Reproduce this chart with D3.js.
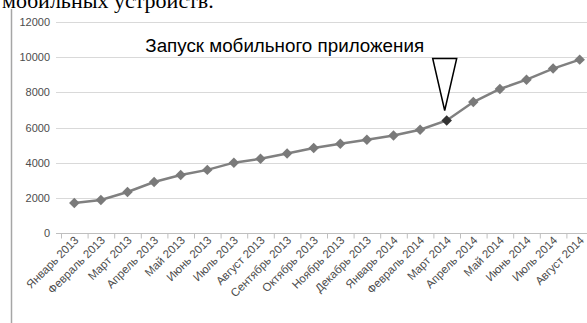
<!DOCTYPE html>
<html lang="ru">
<head>
    <meta charset="utf-8" />
    <title>Запуск мобильного приложения</title>
    <script src="https://d3js.org/d3.v7.min.js"></script>
    <style>
        body { margin: 0; background: #fff; }
        svg { display: block; }
    </style>
</head>
<body>
    <script>
        // Data
        const months = ["Январь 2013", "Февраль 2013", "Март 2013", "Апрель 2013", "Май 2013",
            "Июнь 2013", "Июль 2013", "Август 2013", "Сентябрь 2013", "Октябрь 2013",
            "Ноябрь 2013", "Декабрь 2013", "Январь 2014", "Февраль 2014", "Март 2014",
            "Апрель 2014", "Май 2014", "Июнь 2014", "Июль 2014", "Август 2014"];
        const users = [1700, 1880, 2330, 2900, 3300, 3590, 4000, 4220, 4520, 4830,
            5070, 5300, 5550, 5870, 6400, 7450, 8190, 8720, 9350, 9860];
        const yTicks = [0, 2000, 4000, 6000, 8000, 10000, 12000];
        const launchMonth = "Март 2014";
        const launchText = "Запуск мобильного приложения";

        const width = 587, height = 323;

        const svg = d3.select("body")
            .append("svg")
            .attr("width", width)
            .attr("height", height);

        // cut-off line of text from the page above the chart
        svg.append("text")
            .attr("x", 2)
            .attr("y", 8)
            .attr("font-family", "Liberation Serif, serif")
            .attr("font-size", "22px")
            .attr("fill", "#000")
            .text("мобильных устройств.");

        // frame line on the left
        svg.append("line")
            .attr("x1", 11.5).attr("x2", 11.5)
            .attr("y1", 9).attr("y2", height)
            .attr("stroke", "#a6a6a6")
            .attr("stroke-width", 1.5);

        const xScale = d3.scaleBand()
            .domain(months)
            .range([61, 61 + 26.6 * months.length]);

        const yScale = d3.scaleLinear()
            .domain([0, 12000])
            .range([233, 22]);

        // gridlines
        svg.append("g")
            .selectAll("line")
            .data(yTicks.filter(d => d > 0))
            .enter()
            .append("line")
            .attr("x1", 56).attr("x2", width)
            .attr("y1", d => Math.round(yScale(d)) + 0.5)
            .attr("y2", d => Math.round(yScale(d)) + 0.5)
            .attr("stroke", "#d9d9d9")
            .attr("stroke-width", 1.2);

        // y labels
        svg.append("g")
            .selectAll("text")
            .data(yTicks)
            .enter()
            .append("text")
            .attr("x", 50)
            .attr("y", d => yScale(d) + 4)
            .attr("text-anchor", "end")
            .attr("font-family", "Liberation Sans, Arial, sans-serif")
            .attr("font-size", "11px")
            .attr("fill", "#4d4d4d")
            .text(d => d);

        // x axis
        const xAxis = d3.axisBottom(xScale).tickSize(0).tickFormat("");
        const gx = svg.append("g")
            .attr("transform", "translate(0," + (Math.round(yScale(0)) + 0.5) + ")")
            .call(xAxis);
        gx.select(".domain").remove();
        gx.append("line")
            .attr("x1", 56).attr("x2", width)
            .attr("stroke", "#bfbfbf").attr("stroke-width", 1.2);
        gx.selectAll(".bound")
            .data(months)
            .enter()
            .append("line")
            .attr("class", "bound")
            .attr("x1", d => xScale(d) + 0.5).attr("x2", d => xScale(d) + 0.5)
            .attr("y1", 0).attr("y2", 5)
            .attr("stroke", "#bfbfbf");

        // x labels
        svg.append("g")
            .selectAll("text")
            .data(months)
            .enter()
            .append("text")
            .attr("transform", d => "translate(" + (xScale(d) + xScale.bandwidth() / 2 + 5) + ",241) rotate(-45)")
            .attr("text-anchor", "end")
            .attr("font-family", "Liberation Sans, Arial, sans-serif")
            .attr("font-size", "11.5px")
            .attr("fill", "#4d4d4d")
            .text(d => d);

        const cx = d => xScale(d) + xScale.bandwidth() / 2;

        // line
        const line = d3.line()
            .x((d, i) => cx(months[i]))
            .y(d => yScale(d));

        svg.append("path")
            .datum(users)
            .attr("d", line)
            .attr("fill", "none")
            .attr("stroke", "#808080")
            .attr("stroke-width", 2.5);

        // markers
        const diamond = d3.symbol().type(d3.symbolDiamond2).size(70);
        svg.append("g")
            .selectAll("path")
            .data(users)
            .enter()
            .append("path")
            .attr("d", diamond)
            .attr("transform", (d, i) => "translate(" + cx(months[i]) + "," + yScale(d) + ")")
            .attr("fill", (d, i) => months[i] === launchMonth ? "#333333" : "#7a7a7a");

        // annotation
        const li = months.indexOf(launchMonth);
        const ax = cx(launchMonth) - 2;
        const ay = yScale(users[li]) - 10;
        svg.append("path")
            .attr("d", "M" + (ax - 12) + "," + (ay - 52) + "L" + (ax + 12) + "," + (ay - 52) + "L" + ax + "," + ay + "Z")
            .attr("fill", "#fff")
            .attr("stroke", "#000")
            .attr("stroke-width", 1.5);

        svg.append("text")
            .attr("x", ax - 160)
            .attr("y", ay - 58)
            .attr("text-anchor", "middle")
            .attr("font-family", "Liberation Sans, Arial, sans-serif")
            .attr("font-size", "18.8px")
            .attr("fill", "#000")
            .text(launchText);
    </script>
</body>
</html>
